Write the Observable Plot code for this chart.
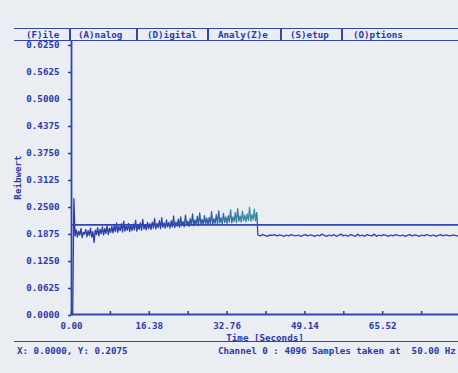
<!DOCTYPE html>
<html><head><meta charset="utf-8">
<script src="https://cdn.jsdelivr.net/npm/d3@7"></script>
<script src="https://cdn.jsdelivr.net/npm/@observablehq/plot@0.6"></script>
<style>
html,body{margin:0;padding:0;background:#eaedf2;width:458px;height:373px;overflow:hidden;}
#screen{position:relative;width:458px;height:373px;font-family:"DejaVu Sans Mono",monospace;font-weight:bold;font-size:9.2px;color:#2b3aa6;}
.menu{position:absolute;top:28px;left:14px;width:444px;height:10.5px;border-top:1.6px solid #3345b2;border-bottom:1.6px solid #3345b2;}
.item{position:absolute;top:0;line-height:11px;white-space:pre;}
.sep{position:absolute;top:0;width:1.5px;height:10.5px;background:#3345b2;}
.status{position:absolute;top:341px;left:14px;width:444px;height:16px;border-top:1.6px solid #3345b2;}
.stxt{position:absolute;top:3px;white-space:pre;line-height:11px;}
#chart{position:absolute;left:0;top:40px;}
</style></head>
<body>
<div id="screen">
  <div id="chart"></div>
  <div class="menu" id="menu"></div>
  <div class="status" id="status"></div>
</div>
<script>
// ---- data ----
const menuItems = ["(F)ile", "(A)nalog", "(D)igital", "Analy(Z)e", "(S)etup", "(O)ptions"];
const menuLeft = [12, 64, 133, 204, 276, 339];
const menuSeps = [55, 122, 193, 266, 327];

const cursorX = 0.0;
const cursorY = 0.2075;
const channelText = "Channel 0 : 4096 Samples taken at  50.00 Hz";

const yTicks = [0, 0.0625, 0.125, 0.1875, 0.25, 0.3125, 0.375, 0.4375, 0.5, 0.5625, 0.625];
const xMinorTicks = [0, 8.192, 16.384, 24.576, 32.768, 40.96, 49.152, 57.344, 65.536, 73.728, 81.92];
const xMajorTicks = [0, 16.384, 32.768, 49.152, 65.536];
const xMajorLabels = ["0.00", "16.38", "32.76", "49.14", "65.52"];

// Reibwert, sampled every 0.25 s from t = 0 (rising, noisy phase)
const risingStep = 0.25;
const risingPhase = [
  0.000, 0.000, 0.268,
  0.182, 0.196, 0.179, 0.193, 0.184, 0.199, 0.178, 0.190, 0.186, 0.197, 0.180, 0.194, 0.183, 0.200, 0.179, 0.192,
  0.167, 0.195, 0.185, 0.201, 0.182, 0.197, 0.187, 0.203, 0.184, 0.199, 0.188, 0.205, 0.185, 0.200, 0.190, 0.204,
  0.189, 0.206, 0.192, 0.212, 0.190, 0.204, 0.194, 0.210, 0.191, 0.216, 0.193, 0.205, 0.195, 0.211, 0.192, 0.207,
  0.194, 0.209, 0.196, 0.218, 0.193, 0.207, 0.197, 0.212, 0.195, 0.220, 0.198, 0.208, 0.196, 0.213, 0.199, 0.210,
  0.197, 0.214, 0.200, 0.222, 0.198, 0.211, 0.201, 0.217, 0.199, 0.224, 0.202, 0.212, 0.200, 0.219, 0.203, 0.213,
  0.200, 0.217, 0.203, 0.228, 0.201, 0.214, 0.204, 0.221, 0.202, 0.226, 0.205, 0.215, 0.203, 0.230, 0.206, 0.216,
  0.204, 0.222, 0.207, 0.233, 0.205, 0.219, 0.208, 0.227, 0.206, 0.235, 0.209, 0.220, 0.207, 0.229, 0.210, 0.223,
  0.207, 0.225, 0.210, 0.238, 0.208, 0.222, 0.211, 0.231, 0.209, 0.240, 0.212, 0.224, 0.210, 0.234, 0.213, 0.226,
  0.211, 0.229, 0.214, 0.242, 0.212, 0.226, 0.215, 0.236, 0.213, 0.245, 0.216, 0.228, 0.214, 0.239, 0.217, 0.230,
  0.215, 0.233, 0.218, 0.248, 0.216, 0.231, 0.219, 0.244, 0.217, 0.236
];
// Reibwert after the drop, every 0.5 s from t = 39.25 s
const steadyStart = 39.25;
const steadyStep = 0.5;
const steadyPhase = [
  0.184, 0.182, 0.185, 0.183, 0.181, 0.184, 0.183, 0.185, 0.182, 0.184,
  0.183, 0.181, 0.184, 0.182, 0.185, 0.183, 0.182, 0.184, 0.181, 0.183,
  0.185, 0.182, 0.184, 0.183, 0.181, 0.184, 0.182, 0.186, 0.183, 0.181,
  0.184, 0.182, 0.185, 0.181, 0.183, 0.186, 0.182, 0.184, 0.181, 0.185,
  0.183, 0.181, 0.186, 0.182, 0.184, 0.181, 0.185, 0.183, 0.182, 0.186,
  0.181, 0.184, 0.182, 0.185, 0.183, 0.181, 0.184, 0.182, 0.185, 0.183,
  0.182, 0.184, 0.181, 0.183, 0.185, 0.182, 0.184, 0.183, 0.181, 0.184,
  0.182, 0.185, 0.183, 0.182, 0.184, 0.181, 0.183, 0.185, 0.182, 0.184,
  0.183, 0.182, 0.184, 0.183, 0.182, 0.183
];

// ---- build ----
const textBlue = "#2b3aa6";
const lineBlue = "#3345b2";

const menu = document.getElementById("menu");
menuItems.forEach((m, i) => {
  const s = document.createElement("span");
  s.className = "item"; s.style.left = menuLeft[i] + "px"; s.textContent = m;
  menu.appendChild(s);
});
menuSeps.forEach(x => {
  const d = document.createElement("div");
  d.className = "sep"; d.style.left = x + "px";
  menu.appendChild(d);
});
const status = document.getElementById("status");
const s1 = document.createElement("span");
s1.className = "stxt"; s1.style.left = "3px";
s1.textContent = `X: ${cursorX.toFixed(4)}, Y: ${cursorY.toFixed(4)}`;
status.appendChild(s1);
const s2 = document.createElement("span");
s2.className = "stxt"; s2.style.left = "204px"; s2.textContent = channelText;
status.appendChild(s2);

const signal = risingPhase.map((v, i) => ({t: i * risingStep, v}))
  .concat(steadyPhase.map((v, i) => ({t: steadyStart + i * steadyStep, v})));
const labelByTick = new Map(xMajorTicks.map((t, i) => [t, xMajorLabels[i]]));

// horizontal colour gradient of the trace (blue, teal-tinted towards the end of the rising phase)
function gradientDefs() {
  const ns = "http://www.w3.org/2000/svg";
  const defs = document.createElementNS(ns, "defs");
  const g = document.createElementNS(ns, "linearGradient");
  g.setAttribute("id", "traceGrad");
  g.setAttribute("gradientUnits", "userSpaceOnUse");
  g.setAttribute("x1", "71"); g.setAttribute("x2", "460");
  g.setAttribute("y1", "0"); g.setAttribute("y2", "0");
  [[0, "#2a3ca6"], [0.22, "#2a40a8"], [0.36, "#2f5fa8"], [0.44, "#3a86a2"], [0.475, "#3b8ea0"], [0.478, "#2d46aa"], [1, "#2d46aa"]]
    .forEach(([o, c]) => {
      const st = document.createElementNS(ns, "stop");
      st.setAttribute("offset", o); st.setAttribute("stop-color", c);
      g.appendChild(st);
    });
  defs.appendChild(g);
  return defs;
}

const chart = Plot.plot({
  width: 458, height: 301,
  marginLeft: 71, marginRight: 0, marginTop: 0, marginBottom: 27,
  style: {background: "transparent", color: textBlue, fontFamily: "DejaVu Sans Mono, monospace", fontWeight: "bold", fontSize: "9.2px"},
  x: {domain: [0, 81.92], range: [71, 460]},
  y: {domain: [0, 0.625], range: [274, 4]},
  marks: [
    gradientDefs,
    Plot.line(signal, {x: "t", y: "v", stroke: "url(#traceGrad)", strokeWidth: 1.3}),
    Plot.ruleY([cursorY], {stroke: lineBlue, strokeWidth: 1.6}),
    Plot.frame({anchor: "left", stroke: lineBlue, strokeWidth: 1.8}),
    Plot.frame({anchor: "bottom", stroke: lineBlue, strokeWidth: 1.8}),
    Plot.axisY({ticks: yTicks, tickFormat: d => d.toFixed(4), tickSize: 3, tickPadding: 9, strokeWidth: 1.5,
      label: "Reibwert", labelAnchor: "center", labelArrow: "none", labelOffset: 57, dy: 1}),
    Plot.axisX({ticks: xMinorTicks, tickSize: 3, dy: -3, tickFormat: () => "", label: null, strokeWidth: 1.5}),
    Plot.axisX({ticks: xMajorTicks, tickSize: 0, tickPadding: 8, tickFormat: d => labelByTick.get(d),
      label: "Time [Seconds]", labelAnchor: "center", labelArrow: "none", labelOffset: 26})
  ]
});
document.getElementById("chart").appendChild(chart);
</script>
</body></html>
